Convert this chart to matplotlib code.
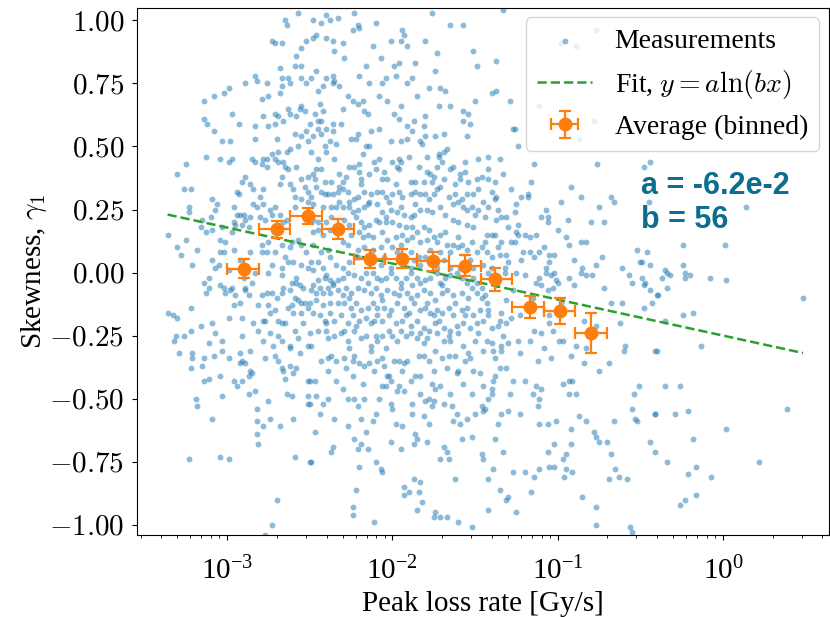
import numpy as np
import matplotlib
matplotlib.use('Agg')
import matplotlib.pyplot as plt
from matplotlib.ticker import FuncFormatter

plt.rcParams['font.family'] = 'serif'
plt.rcParams['font.serif'] = ['Liberation Serif', 'DejaVu Serif']
plt.rcParams['mathtext.fontset'] = 'cm'
plt.rcParams['font.size'] = 21

meas_upper_left = [
    (-2.57, 1.03), (-2.65, 1.00), (-2.64, 0.98), (-2.73, 0.92), (-2.71, 0.91), (-2.67, 0.91), (-2.52, 0.92), (-2.55, 0.89), (-2.58, 0.86), (-2.68, 0.81),
    (-2.59, 0.82), (-2.55, 0.82), (-2.83, 0.78), (-2.82, 0.76), (-2.76, 0.75), (-2.67, 0.77), (-2.63, 0.77), (-2.67, 0.74), (-2.62, 0.75), (-2.55, 0.77),
    (-2.52, 0.75), (-2.89, 0.75), (-2.99, 0.73), (-3.02, 0.71), (-3.08, 0.70), (-3.14, 0.68), (-2.79, 0.69), (-2.75, 0.70), (-2.68, 0.71), (-2.97, 0.63),
    (-2.71, 0.63), (-2.69, 0.62), (-2.63, 0.65), (-2.62, 0.63), (-2.56, 0.65), (-2.53, 0.64), (-3.14, 0.61), (-3.12, 0.59), (-2.93, 0.59), (-2.83, 0.58),
    (-2.75, 0.58), (-2.71, 0.59), (-2.66, 0.60), (-3.08, 0.56), (-3.03, 0.52), (-2.98, 0.52), (-2.83, 0.53), (-2.59, 0.55), (-2.55, 0.54), (-2.52, 0.56),
    (-2.51, 0.52), (-2.62, 0.49), (-2.57, 0.50), (-2.64, 0.48), (-2.69, 0.48), (-2.73, 0.47), (-2.76, 0.45), (-2.78, 0.45), (-3.13, 0.46), (-3.04, 0.45),
    (-2.99, 0.44), (-2.97, 0.45), (-2.85, 0.45), (-2.83, 0.44), (-2.79, 0.43), (-2.76, 0.42), (-2.71, 0.45), (-2.69, 0.44), (-2.66, 0.44), (-2.65, 0.42),
    (-2.63, 0.41), (-2.58, 0.42), (-3.25, 0.43), (-3.30, 0.39), (-3.26, 0.33), (-3.22, 0.33), (-3.09, 0.29), (-3.06, 0.27), (-3.07, 0.25), (-3.10, 0.22),
    (-3.15, 0.21), (-3.23, 0.24), (-3.23, 0.26), (-2.89, 0.38), (-2.91, 0.36), (-2.94, 0.32), (-2.93, 0.31), (-2.84, 0.33), (-2.78, 0.33), (-2.80, 0.30),
    (-2.84, 0.27), (-2.82, 0.26), (-2.78, 0.27), (-2.74, 0.25), (-2.71, 0.26), (-2.68, 0.35), (-2.67, 0.38), (-2.62, 0.35), (-2.55, 0.37), (-2.51, 0.38),
    (-2.53, 0.34), (-2.51, 0.32), (-2.59, 0.30), (-2.55, 0.29), (-2.51, 0.28), (-2.59, 0.26), (-2.96, 0.26), (-2.94, 0.23), (-2.92, 0.23), (-2.90, 0.23),
    (-2.89, 0.21), (-2.86, 0.22), (-2.80, 0.22), (-2.77, 0.21), (-2.73, 0.23), (-2.68, 0.23), (-2.64, 0.21), (-2.96, 0.20), (-2.95, 0.19), (-2.91, 0.19),
    (-2.87, 0.18), (-3.03, 0.18), (-2.97, 0.16), (-3.13, 0.16), (-3.09, 0.17), (-3.16, 0.18), (-3.356, 0.15), (-3.30, 0.10), (-3.28, 0.07), (-3.25, 0.13),
    (-3.18, 0.09), (-3.09, 0.05), (-3.04, 0.08), (-3.01, 0.12), (-3.04, 0.13), (-3.02, 0.08), (-2.96, 0.09), (-2.92, 0.05), (-2.86, 0.08), (-2.79, 0.08),
    (-2.79, 0.11), (-2.76, 0.08), (-2.75, 0.12), (-2.71, 0.08), (-2.67, 0.11), (-2.65, 0.06), (-2.63, 0.04), (-2.61, 0.12), (-2.57, 0.13), (-2.55, 0.11),
    (-2.52, 0.08), (-2.73, 0.03), (-2.67, 0.02), (-2.60, 0.04), (-2.55, 0.03), (-2.51, 0.02), (-3.05, 0.03), (-2.99, 0.01), (-3.21, 0.03), (-3.07, 0.02),
]

meas_upper_mid = [
    (-2.48, 1.00), (-2.43, 0.99), (-2.40, 1.02), (-2.38, 1.00), (-2.33, 1.01), (-2.23, 1.03), (-2.24, 0.96), (-2.21, 0.98), (-2.20, 0.97), (-2.10, 0.99),
    (-1.76, 1.03), (-1.65, 0.98), (-1.57, 0.98), (-2.48, 0.93), (-2.46, 0.94), (-2.40, 0.93), (-2.36, 0.92), (-2.30, 0.91), (-2.01, 0.92), (-1.95, 0.92),
    (-1.94, 0.96), (-1.93, 0.94), (-1.91, 0.90), (-1.80, 0.92), (-1.73, 0.87), (-1.51, 0.88), (-1.49, 0.82), (-2.29, 0.85), (-2.16, 0.82), (-2.07, 0.85),
    (-1.99, 0.82), (-1.96, 0.83), (-1.74, 0.80), (-2.46, 0.80), (-2.40, 0.77), (-2.36, 0.78), (-2.35, 0.76), (-2.32, 0.74), (-2.36, 0.75), (-2.42, 0.74),
    (-2.49, 0.77), (-2.14, 0.75), (-2.06, 0.75), (-2.04, 0.77), (-1.98, 0.78), (-1.91, 0.75), (-1.88, 0.77), (-1.78, 0.73), (-1.71, 0.73), (-1.68, 0.72),
    (-2.27, 0.70), (-2.24, 0.68), (-2.21, 0.67), (-2.18, 0.68), (-2.03, 0.68), (-2.17, 0.64), (-2.15, 0.63), (-1.99, 0.63), (-1.96, 0.61), (-1.91, 0.58),
    (-1.87, 0.60), (-1.80, 0.62), (-1.81, 0.58), (-1.72, 0.66), (-1.65, 0.66), (-1.57, 0.64), (-1.54, 0.63), (-1.50, 0.68), (-1.57, 0.60), (-1.53, 0.59),
    (-2.44, 0.67), (-2.42, 0.64), (-2.47, 0.63), (-2.50, 0.59), (-2.45, 0.60), (-2.43, 0.60), (-2.40, 0.57), (-2.36, 0.59), (-2.31, 0.59), (-2.36, 0.56),
    (-2.45, 0.57), (-2.48, 0.54), (-2.43, 0.55), (-2.38, 0.52), (-2.34, 0.51), (-2.41, 0.50), (-2.40, 0.48), (-2.49, 0.48), (-2.21, 0.55), (-2.25, 0.53),
    (-2.22, 0.53), (-2.16, 0.50), (-2.14, 0.50), (-2.13, 0.56), (-2.08, 0.57), (-2.01, 0.52), (-1.95, 0.52), (-1.91, 0.53), (-1.88, 0.56), (-1.83, 0.52),
    (-1.82, 0.51), (-1.80, 0.54), (-1.74, 0.54), (-1.69, 0.55), (-1.69, 0.48), (-1.67, 0.49), (-1.72, 0.47), (-1.72, 0.46), (-1.79, 0.46), (-1.55, 0.54),
    (-1.56, 0.44), (-2.45, 0.45), (-2.46, 0.41), (-2.48, 0.39), (-2.43, 0.41), (-2.47, 0.37), (-2.41, 0.36), (-2.37, 0.36), (-2.32, 0.39), (-2.30, 0.36),
    (-2.32, 0.34), (-2.26, 0.42), (-2.23, 0.42), (-2.20, 0.43), (-2.20, 0.40), (-2.19, 0.37), (-2.19, 0.35), (-2.14, 0.39), (-2.11, 0.44), (-2.10, 0.41),
    (-2.08, 0.45), (-2.06, 0.37), (-2.03, 0.37), (-2.00, 0.44), (-1.96, 0.45), (-1.95, 0.44), (-1.96, 0.41), (-1.97, 0.42), (-1.89, 0.36), (-1.86, 0.36),
    (-1.81, 0.36), (-1.79, 0.40), (-1.77, 0.39), (-1.75, 0.38), (-1.73, 0.42), (-1.69, 0.37), (-1.65, 0.41), (-1.63, 0.42), (-1.59, 0.39), (-1.59, 0.37),
    (-1.54, 0.36), (-1.49, 0.37), (-1.46, 0.38),
    (-2.46, 0.34), (-2.43, 0.32), (-2.41, 0.31), (-2.39, 0.31), (-2.36, 0.31), (-2.33, 0.32), (-2.30, 0.33), (-2.27, 0.32), (-2.49, 0.30), (-2.26, 0.28),
    (-2.23, 0.29), (-2.21, 0.30), (-2.17, 0.32), (-2.13, 0.31), (-2.09, 0.32), (-2.06, 0.32), (-2.04, 0.30), (-2.00, 0.31), (-1.96, 0.32), (-1.94, 0.30),
    (-1.89, 0.31), (-1.86, 0.32), (-1.83, 0.31), (-1.80, 0.31), (-1.75, 0.31), (-1.73, 0.33), (-1.71, 0.34), (-1.66, 0.30), (-1.62, 0.31), (-1.58, 0.29),
    (-1.55, 0.31), (-1.51, 0.31), (-1.48, 0.33),
    (-2.48, 0.27), (-2.42, 0.26), (-2.37, 0.26), (-2.34, 0.26), (-2.30, 0.26), (-2.26, 0.26), (-2.21, 0.25), (-2.17, 0.26), (-2.14, 0.28), (-2.09, 0.27),
    (-2.06, 0.24), (-2.04, 0.22), (-2.01, 0.25), (-1.97, 0.24), (-1.93, 0.23), (-1.89, 0.22), (-1.87, 0.23), (-1.83, 0.25), (-1.79, 0.25), (-1.76, 0.24),
    (-1.71, 0.26), (-1.63, 0.27), (-1.57, 0.26), (-1.55, 0.25), (-1.50, 0.23), (-1.48, 0.25), (-1.45, 0.28),
    (-2.48, 0.21), (-2.45, 0.20), (-2.37, 0.22), (-2.40, 0.20), (-2.29, 0.21), (-2.26, 0.19), (-2.22, 0.22), (-2.19, 0.20), (-2.17, 0.18), (-2.14, 0.19),
    (-2.10, 0.21), (-2.08, 0.20), (-2.04, 0.20), (-2.00, 0.20), (-1.96, 0.19), (-1.92, 0.18), (-1.88, 0.18), (-1.85, 0.16), (-1.81, 0.18), (-1.78, 0.17),
    (-1.75, 0.14), (-1.71, 0.15), (-1.68, 0.16), (-1.63, 0.21), (-1.60, 0.20), (-1.55, 0.19), (-1.51, 0.18),
    (-2.48, 0.16), (-2.45, 0.17), (-2.42, 0.15), (-2.25, 0.15), (-2.20, 0.16), (-2.18, 0.14), (-2.15, 0.15), (-2.12, 0.14), (-2.06, 0.16), (-2.03, 0.13),
    (-1.98, 0.14), (-1.94, 0.15), (-1.91, 0.13), (-1.88, 0.14), (-1.83, 0.12), (-1.79, 0.13), (-1.73, 0.12), (-1.67, 0.11), (-1.63, 0.11), (-1.58, 0.11),
    (-1.52, 0.12), (-1.49, 0.08),
    (-2.48, 0.11), (-2.43, 0.08), (-2.39, 0.09), (-2.27, 0.11), (-2.21, 0.09), (-2.17, 0.10), (-2.07, 0.10), (-2.00, 0.10), (-1.97, 0.08), (-1.89, 0.08),
    (-1.84, 0.06), (-1.80, 0.06), (-1.71, 0.08), (-1.65, 0.08), (-1.60, 0.10), (-1.55, 0.09), (-1.46, 0.10),
    (-2.49, 0.04), (-2.45, 0.04), (-2.42, 0.02), (-2.38, 0.06), (-2.34, 0.03), (-2.30, 0.02), (-2.26, 0.04), (-2.21, 0.06), (-2.07, 0.03), (-2.01, 0.02),
    (-1.89, 0.02), (-1.83, 0.03), (-1.73, 0.02), (-1.65, 0.02), (-1.59, 0.02), (-1.51, 0.02), (-1.45, 0.03),
]

meas_upper_right = [
    (-1.33, 1.04), (-0.98, 0.91), (-0.89, 0.90), (-0.77, 0.96), (-1.37, 0.84), (-1.40, 0.71), (-1.37, 0.72), (-1.29, 0.68), (-1.11, 0.66), (-0.78, 0.60),
    (-0.87, 0.53), (-1.27, 0.57), (-1.26, 0.57), (-1.24, 0.50), (-1.42, 0.46), (-1.35, 0.45), (-1.14, 0.43), (-0.76, 0.43), (-0.48, 0.42), (-0.44, 0.44),
    (-1.33, 0.39), (-1.42, 0.37), (-1.40, 0.32), (-1.37, 0.30), (-1.38, 0.29), (-1.28, 0.33), (-1.16, 0.36), (-1.18, 0.31), (-1.18, 0.30), (-0.92, 0.34),
    (-0.86, 0.30), (-0.68, 0.30), (-0.66, 0.28), (-0.45, 0.28), (-1.42, 0.26), (-1.37, 0.21), (-1.34, 0.22), (-1.31, 0.22), (-1.25, 0.27), (-1.24, 0.19),
    (-1.26, 0.24), (-1.07, 0.25), (-1.06, 0.22), (-1.06, 0.20), (-0.98, 0.28), (-0.94, 0.21), (-0.75, 0.26), (-0.72, 0.20), (-0.80, 0.20), (-1.43, 0.15),
    (-1.40, 0.15), (-1.38, 0.15), (-1.34, 0.12), (-1.28, 0.12), (-1.25, 0.16), (-1.24, 0.15), (-1.20, 0.15), (-1.17, 0.14), (-1.13, 0.15), (-1.08, 0.10),
    (-1.11, 0.08), (-1.05, 0.07), (-1.02, 0.07), (-0.95, 0.14), (-0.93, 0.11), (-0.86, 0.12), (-0.83, 0.12), (-1.43, 0.08), (-1.40, 0.06), (-1.35, 0.07),
    (-1.31, 0.07), (-1.21, 0.08), (-1.17, 0.08), (-1.22, 0.05), (-1.14, 0.06), (-1.05, 0.04), (-1.07, 0.02), (-0.85, 0.02), (-0.77, 0.03), (-0.73, 0.06),
    (-0.52, 0.09), (-0.46, 0.08), (-0.50, 0.04), (-0.49, 0.04), (-0.44, 0.03), (-1.40, 0.02), (-1.32, 0.02), (-0.61, 0.02),
    (0.14, 0.26), (-0.24, 0.11), (0.01, 0.11), (-0.24, 0.03), (-0.35, 0.01),
]

meas_lower_left = [
    (-3.14, -0.04), (-3.11, -0.02), (-3.13, -0.08), (-3.11, -0.06), (-3.04, -0.05), (-3.02, -0.06), (-3.01, -0.08), (-2.98, -0.07), (-2.97, -0.06), (-2.95, -0.09),
    (-2.89, -0.06), (-2.89, -0.07), (-2.87, -0.09), (-2.85, -0.04), (-2.79, -0.09), (-2.76, -0.08), (-2.73, -0.08), (-2.70, -0.10), (-2.67, -0.08), (-2.66, -0.06),
    (-2.62, -0.07), (-2.61, -0.04), (-2.58, -0.04), (-2.56, -0.05), (-2.54, -0.06), (-2.59, -0.10), (-2.57, -0.11), (-2.55, -0.12), (-2.53, -0.12), (-2.61, -0.13),
    (-2.63, -0.14), (-2.60, -0.16), (-2.55, -0.16), (-2.51, -0.14), (-2.54, -0.20), (-2.51, -0.29), (-2.83, 0.00), (-2.75, 0.00), (-2.67, -0.01), (-3.36, -0.16),
    (-3.33, -0.17), (-3.30, -0.18), (-3.22, -0.14), (-2.96, -0.13), (-2.92, -0.12), (-2.99, -0.18), (-2.91, -0.18), (-2.81, -0.13), (-2.78, -0.19), (-2.77, -0.19),
    (-2.75, -0.13), (-2.74, -0.16), (-2.71, -0.15), (-2.69, -0.19), (-2.67, -0.20), (-2.65, -0.20), (-2.84, -0.20), (-2.81, -0.23), (-3.16, -0.21), (-3.09, -0.20),
    (-3.07, -0.24), (-3.22, -0.23), (-3.26, -0.25), (-3.31, -0.25), (-3.32, -0.27), (-3.11, -0.28), (-3.03, -0.27), (-2.91, -0.25), (-2.74, -0.24), (-2.72, -0.29),
    (-2.69, -0.25), (-2.67, -0.27), (-2.62, -0.29), (-2.62, -0.30), (-2.59, -0.23), (-2.57, -0.26), (-2.56, -0.32), (-3.29, -0.32), (-3.21, -0.32), (-3.21, -0.34),
    (-3.14, -0.34), (-3.08, -0.33), (-3.03, -0.31), (-2.99, -0.34), (-2.92, -0.32), (-2.91, -0.35), (-2.92, -0.36), (-2.89, -0.36), (-2.86, -0.31), (-2.86, -0.39),
    (-2.85, -0.40), (-2.87, -0.41), (-2.77, -0.34), (-2.71, -0.33), (-2.69, -0.35), (-2.67, -0.38), (-2.66, -0.39), (-2.62, -0.37), (-2.60, -0.40), (-2.58, -0.38),
    (-2.65, -0.42), (-2.51, -0.43), (-3.22, -0.38), (-3.15, -0.37), (-3.14, -0.43), (-3.11, -0.42), (-3.04, -0.41), (-2.96, -0.43), (-2.94, -0.45), (-2.91, -0.43),
    (-2.87, -0.48), (-2.83, -0.47), (-3.19, -0.50), (-3.18, -0.53), (-3.03, -0.49), (-2.75, -0.51), (-2.61, -0.49), (-2.51, -0.49), (-2.51, -0.52), (-3.09, -0.58),
    (-2.82, -0.54), (-2.82, -0.59), (-2.78, -0.61), (-2.74, -0.58), (-2.68, -0.61), (-2.60, -0.58), (-2.82, -0.64), (-2.81, -0.68), (-3.23, -0.74), (-3.04, -0.73),
    (-2.99, -0.74), (-2.59, -0.73), (-2.50, -0.75), (-2.70, -0.90), (-2.73, -1.00), (-2.77, -1.04),
]

meas_lower_mid = [
    (-2.48, 0.01), (-2.41, -0.02), (-2.38, -0.03), (-2.40, -0.01), (-2.45, -0.03), (-2.48, -0.05), (-2.44, -0.06), (-2.39, -0.06), (-2.36, -0.04), (-2.33, -0.03),
    (-2.30, -0.02), (-2.27, 0.00), (-2.23, -0.01), (-2.19, -0.02), (-2.16, 0.00), (-2.12, 0.00), (-2.09, -0.02), (-2.07, -0.03), (-2.04, -0.02), (-2.01, 0.00),
    (-1.98, -0.02), (-1.95, -0.04), (-1.92, -0.02), (-1.89, 0.00), (-1.85, -0.02), (-1.83, -0.04), (-1.80, -0.03), (-1.77, -0.02), (-1.73, 0.00), (-1.71, -0.04),
    (-1.68, -0.02), (-1.65, -0.01), (-1.61, 0.00), (-1.58, -0.02), (-1.55, -0.04), (-1.51, -0.02), (-1.49, -0.04), (-1.46, -0.06),
    (-2.49, -0.07), (-2.46, -0.08), (-2.42, -0.08), (-2.38, -0.08), (-2.33, -0.07), (-2.30, -0.09), (-2.28, -0.06), (-2.25, -0.08), (-2.21, -0.06), (-2.17, -0.07),
    (-2.13, -0.08), (-2.10, -0.06), (-2.07, -0.09), (-2.03, -0.07), (-1.99, -0.08), (-1.95, -0.06), (-1.91, -0.08), (-1.89, -0.10), (-1.85, -0.09), (-1.81, -0.07),
    (-1.77, -0.08), (-1.74, -0.11), (-1.70, -0.08), (-1.67, -0.07), (-1.63, -0.09), (-1.58, -0.08), (-1.54, -0.10), (-1.49, -0.08), (-1.46, -0.10),
    (-2.50, -0.12), (-2.46, -0.11), (-2.42, -0.13), (-2.38, -0.12), (-2.33, -0.12), (-2.29, -0.12), (-2.25, -0.14), (-2.22, -0.12), (-2.19, -0.15), (-2.15, -0.14),
    (-2.12, -0.12), (-2.09, -0.14), (-2.05, -0.14), (-2.01, -0.15), (-1.97, -0.12), (-1.93, -0.14), (-1.90, -0.16), (-1.87, -0.12), (-1.83, -0.15), (-1.80, -0.14),
    (-1.77, -0.16), (-1.73, -0.15), (-1.70, -0.16), (-1.66, -0.14), (-1.63, -0.17), (-1.58, -0.15), (-1.55, -0.14), (-1.51, -0.17), (-1.47, -0.15),
    (-2.48, -0.16), (-2.44, -0.17), (-2.41, -0.19), (-2.38, -0.16), (-2.35, -0.19), (-2.31, -0.17), (-2.27, -0.20), (-2.24, -0.17), (-2.20, -0.19), (-2.16, -0.18),
    (-2.13, -0.20), (-2.09, -0.17), (-2.06, -0.19), (-2.02, -0.17), (-1.98, -0.20), (-1.94, -0.19), (-1.89, -0.21), (-1.85, -0.19), (-1.81, -0.22), (-1.78, -0.23),
    (-1.74, -0.20), (-1.72, -0.19), (-1.69, -0.22), (-1.65, -0.23), (-1.61, -0.21), (-1.57, -0.20), (-1.53, -0.22), (-1.49, -0.20), (-1.45, -0.19),
    (-2.50, -0.24), (-2.45, -0.23), (-2.40, -0.23), (-2.39, -0.26), (-2.35, -0.25), (-2.29, -0.23), (-2.27, -0.27), (-2.23, -0.23), (-2.19, -0.26), (-2.16, -0.25),
    (-2.13, -0.29), (-2.10, -0.25), (-2.09, -0.27), (-2.06, -0.25), (-2.02, -0.23), (-1.97, -0.27), (-1.95, -0.23), (-1.92, -0.25), (-1.89, -0.24), (-1.85, -0.26),
    (-1.81, -0.28), (-1.79, -0.26), (-1.74, -0.31), (-1.73, -0.24), (-1.69, -0.27), (-1.65, -0.27), (-1.60, -0.24), (-1.57, -0.29), (-1.54, -0.32), (-1.50, -0.27),
    (-1.45, -0.31),
    (-2.49, -0.29), (-2.43, -0.35), (-2.39, -0.34), (-2.34, -0.35), (-2.29, -0.34), (-2.28, -0.38), (-2.23, -0.33), (-2.24, -0.35), (-2.20, -0.36), (-2.17, -0.37),
    (-2.13, -0.31), (-2.11, -0.39), (-2.09, -0.35), (-2.06, -0.34), (-2.05, -0.37), (-2.03, -0.41), (-2.02, -0.41), (-2.01, -0.43), (-1.99, -0.35), (-1.96, -0.35),
    (-1.93, -0.36), (-1.91, -0.35), (-1.89, -0.43), (-1.86, -0.41), (-1.83, -0.41), (-1.81, -0.33), (-1.78, -0.35), (-1.75, -0.39), (-1.70, -0.34), (-1.66, -0.33),
    (-1.62, -0.33), (-1.61, -0.40), (-1.60, -0.39), (-1.57, -0.44), (-1.53, -0.34), (-1.51, -0.39), (-1.45, -0.45),
    (-2.50, -0.43), (-2.47, -0.43), (-2.39, -0.39), (-2.34, -0.43), (-2.24, -0.41), (-2.06, -0.45), (-2.04, -0.45), (-1.96, -0.45), (-1.93, -0.47), (-1.83, -0.48),
    (-1.80, -0.51), (-1.78, -0.50), (-1.76, -0.53), (-1.75, -0.51), (-1.71, -0.45), (-1.69, -0.52), (-1.65, -0.48), (-1.61, -0.56), (-1.59, -0.60), (-1.63, -0.59),
    (-1.55, -0.58), (-1.50, -0.56), (-1.46, -0.53), (-1.45, -0.55),
    (-2.46, -0.49), (-2.42, -0.52), (-2.39, -0.50), (-2.27, -0.50), (-2.23, -0.50), (-2.21, -0.53), (-2.19, -0.58), (-2.17, -0.50), (-2.12, -0.59), (-2.10, -0.56),
    (-2.01, -0.52), (-2.00, -0.54), (-1.94, -0.61), (-1.88, -0.52), (-1.87, -0.68), (-1.86, -0.64), (-1.85, -0.66), (-1.81, -0.57), (-1.79, -0.67), (-1.69, -0.69),
    (-1.67, -0.71), (-1.66, -0.74), (-1.71, -0.74), (-1.62, -0.82), (-1.52, -0.65), (-1.46, -0.72), (-1.45, -0.74),
    (-2.50, -0.52), (-2.44, -0.56), (-2.27, -0.61), (-2.23, -0.66), (-2.21, -0.70), (-2.19, -0.68), (-2.15, -0.70), (-2.20, -0.77), (-2.10, -0.75), (-2.07, -0.78),
    (-2.06, -0.79), (-2.01, -0.67), (-1.95, -0.70), (-2.22, -0.86), (-2.24, -0.93), (-2.24, -0.96), (-2.11, -0.99), (-1.93, -0.85), (-1.93, -0.88), (-1.90, -0.87),
    (-1.87, -0.82), (-1.83, -0.83), (-1.84, -0.87), (-1.82, -0.91), (-1.85, -0.94), (-1.75, -0.97), (-1.74, -0.95), (-1.71, -0.97), (-1.67, -0.97), (-1.60, -0.99),
    (-1.52, -1.01), (-2.49, -0.75), (-2.36, -0.69), (-2.37, -0.71),
]

meas_lower_right = [
    (-1.42, 0.00), (-1.32, 0.00), (-1.25, 0.00), (-1.20, -0.01), (-1.13, -0.04), (-1.11, -0.02), (-1.07, 0.00), (-1.04, -0.01), (-1.02, 0.00), (-1.01, -0.03),
    (-1.00, -0.04), (-1.03, -0.06), (-1.06, -0.07), (-1.10, -0.05), (-0.93, -0.02), (-0.86, 0.00), (-0.83, -0.01), (-0.79, -0.01), (-0.72, -0.06), (-0.57, -0.01),
    (-0.55, -0.04), (-0.49, -0.02), (-0.48, -0.05), (-0.47, -0.04), (-0.44, -0.07), (-0.40, -0.09), (-0.68, -0.12), (-0.61, -0.12), (-0.48, -0.14), (-0.43, -0.12),
    (-1.43, -0.12), (-1.42, -0.15), (-1.42, -0.17), (-1.34, -0.16), (-1.35, -0.19), (-1.36, -0.21), (-1.31, -0.20), (-1.23, -0.17), (-1.14, -0.23), (-1.10, -0.24),
    (-1.03, -0.23), (-0.99, -0.27), (-0.97, -0.27), (-1.05, -0.17), (-1.05, -0.20), (-0.84, -0.19), (-0.77, -0.21), (-0.89, -0.29), (-0.83, -0.30), (-0.92, -0.33),
    (-0.84, -0.36), (-0.69, -0.36), (-0.75, -0.39), (-0.62, -0.20), (-0.59, -0.29), (-0.60, -0.31), (-0.40, -0.31), (-1.43, -0.27), (-1.39, -0.31), (-1.40, -0.28),
    (-1.34, -0.29), (-1.34, -0.31), (-1.30, -0.28), (-1.24, -0.27), (-1.23, -0.32), (-1.17, -0.27), (-1.12, -0.35), (-1.04, -0.34), (-1.35, -0.38), (-1.38, -0.41),
    (-1.39, -0.43), (-1.40, -0.46), (-1.40, -0.48), (-1.27, -0.43), (-1.29, -0.48), (-1.15, -0.48), (-1.13, -0.45), (-1.10, -0.46), (-1.11, -0.50), (-1.12, -0.53),
    (-1.23, -0.56), (-1.34, -0.56), (-1.36, -0.60), (-1.44, -0.54), (-1.11, -0.60), (-1.06, -0.60), (-1.01, -0.59), (-0.97, -0.44), (-0.93, -0.43), (-0.91, -0.43),
    (-0.93, -0.48), (-0.89, -0.48), (-0.92, -0.62), (-0.87, -0.57), (-0.83, -0.59), (-0.78, -0.63), (-0.77, -0.65), (-0.75, -0.67), (-0.70, -0.67), (-0.68, -0.72),
    (-0.66, -0.59), (-0.54, -0.48), (-0.51, -0.45), (-0.55, -0.54), (-0.53, -0.58), (-0.52, -0.59), (-0.41, -0.56), (-0.44, -0.67), (-1.02, -0.68), (-1.06, -0.71),
    (-0.95, -0.72), (-0.97, -0.74), (-0.92, -0.68), (-0.95, -0.78), (-0.96, -0.81), (-0.91, -0.79), (-1.05, -0.77), (-1.02, -0.77), (-1.11, -0.78), (-1.14, -0.81),
    (-1.20, -0.79), (-1.27, -0.79), (-1.39, -0.78), (-1.33, -0.71), (-1.42, -0.82), (-1.35, -0.86), (-1.30, -0.89), (-1.31, -0.90), (-1.42, -0.94), (-1.25, -0.95),
    (-1.16, -0.87), (-0.85, -0.89), (-0.77, -0.93), (-0.77, -1.00), (-0.69, -0.82), (-0.65, -0.78), (-0.63, -0.81), (-0.58, -0.82), (-0.56, -1.01), (-0.55, -1.03),
    (-0.41, -0.71),
    (-0.34, 0.00), (-0.23, 0.00), (-0.20, -0.01), (-0.23, -0.02), (-0.37, -0.02), (-0.32, -0.01), (-0.08, -0.02), (0.02, -0.03), (0.485, -0.10), (-0.39, -0.09),
    (-0.34, -0.06), (-0.24, -0.17), (-0.18, -0.16), (-0.35, -0.19), (-0.41, -0.31), (-0.13, -0.29), (-0.35, -0.45), (-0.26, -0.45), (-0.41, -0.56), (-0.29, -0.56),
    (-0.21, -0.55), (0.39, -0.54), (0.02, -0.62), (-0.18, -0.66), (-0.34, -0.75), (0.22, -0.75), (-0.16, -0.77), (-0.21, -0.80), (-0.07, -0.81), (-0.16, -0.88),
    (-0.23, -0.90), (-0.26, -0.92),
]

# extra points in the crowded middle of the cloud
meas_center = [
    (-2.35, 0.45), (-2.28, 0.38), (-2.18, 0.47), (-2.05, 0.40), (-1.98, 0.35), (-1.90, 0.46), (-1.84, 0.42), (-1.76, 0.36), (-1.70, 0.44), (-1.62, 0.35),
    (-1.56, 0.40), (-1.48, 0.45), (-1.42, 0.41), (-1.38, 0.36), (-2.32, 0.28), (-2.24, 0.24), (-2.15, 0.27), (-2.02, 0.28), (-1.95, 0.26), (-1.86, 0.27),
    (-1.78, 0.29), (-1.68, 0.23), (-1.60, 0.28), (-1.52, 0.26), (-1.44, 0.22), (-1.36, 0.25), (-1.30, 0.18), (-2.38, 0.17), (-2.30, 0.12), (-2.22, 0.06),
    (-2.12, 0.09), (-2.05, 0.06), (-1.95, 0.11), (-1.87, 0.05), (-1.77, 0.09), (-1.69, 0.05), (-1.60, 0.14), (-1.53, 0.05), (-1.44, 0.12), (-1.36, 0.10),
    (-1.30, 0.04), (-1.26, 0.12), (-2.36, -0.05), (-2.26, -0.10), (-2.15, -0.04), (-2.06, -0.11), (-1.96, -0.09), (-1.88, -0.05), (-1.79, -0.12), (-1.70, -0.05),
    (-1.62, -0.12), (-1.52, -0.06), (-1.44, -0.09), (-1.37, -0.05), (-1.31, -0.11), (-1.27, -0.07), (-2.40, -0.20), (-2.31, -0.24), (-2.22, -0.21), (-2.11, -0.19),
    (-2.00, -0.25), (-1.92, -0.17), (-1.83, -0.24), (-1.75, -0.17), (-1.66, -0.25), (-1.56, -0.17), (-1.48, -0.24), (-1.40, -0.22), (-1.33, -0.25), (-1.28, -0.18),
    (-2.37, -0.33), (-2.26, -0.30), (-2.14, -0.36), (-2.04, -0.30), (-1.94, -0.39), (-1.84, -0.33), (-1.76, -0.44), (-1.67, -0.38), (-1.56, -0.35), (-1.47, -0.40),
    (-1.38, -0.34), (-1.31, -0.38), (-2.30, -0.46), (-2.18, -0.44), (-2.08, -0.50), (-1.97, -0.47), (-1.88, -0.56), (-1.74, -0.46), (-1.64, -0.53), (-1.52, -0.48),
    (-1.42, -0.50), (-1.30, -0.55), (-2.62, 0.10), (-2.58, -0.02), (-2.66, 0.20), (-2.60, 0.33), (-2.70, 0.53), (-2.58, 0.62), (-2.45, 0.72), (-2.30, 0.65),
    (-2.20, 0.78), (-2.08, 0.70), (-1.95, 0.66), (-1.85, 0.70), (-1.86, 0.83), (-2.12, 0.90), (-2.35, 0.88), (-2.55, 0.66), (-2.78, 0.62), (-2.86, 0.35),
    (-2.70, 0.16), (-2.90, -0.02), (-2.78, -0.27), (-2.64, -0.48), (-2.47, -0.63), (-2.35, -0.58), (-2.16, -0.63), (-1.98, -0.60), (-1.78, -0.60), (-1.58, -0.66),
    (-1.38, -0.66), (-1.20, -0.43), (-1.15, -0.10), (-1.08, -0.30), (-0.98, -0.12), (-0.90, -0.05), (-1.22, 0.30), (-1.10, 0.22), (-1.00, 0.17), (-0.90, 0.05),
]

# fit y = a ln(b x)
fit_a = -6.2e-2
fit_b = 56

# binned averages
bin_edges = [0.001, 0.00155, 0.00242, 0.00376, 0.00584, 0.00909, 0.0141, 0.0220, 0.0342, 0.0531, 0.0826, 0.128, 0.200]
bin_x = [1.27e-3, 2.0e-3, 3.07e-3, 4.69e-3, 7.3e-3, 1.15e-2, 1.77e-2, 2.76e-2, 4.19e-2, 6.79e-2, 0.103, 0.160]
bin_y = [0.015, 0.171, 0.224, 0.173, 0.053, 0.055, 0.044, 0.028, -0.027, -0.135, -0.152, -0.238]
bin_yerr = [0.038, 0.034, 0.033, 0.039, 0.035, 0.038, 0.037, 0.041, 0.045, 0.044, 0.051, 0.079]

meas = np.array(meas_upper_left + meas_upper_mid + meas_upper_right + meas_lower_left
                + meas_lower_mid + meas_lower_right + meas_center)
rate = 10 ** meas[:, 0]
skew = meas[:, 1]

fig, ax = plt.subplots(figsize=(8.3, 6.17), dpi=100)
fig.subplots_adjust(left=0.165, right=0.9985, bottom=0.133, top=0.9875)

h_meas = ax.scatter(rate, skew, s=18, color='tab:blue', alpha=0.5, linewidths=0,
                    label='Measurements')
xfit = np.logspace(np.log10(rate.min()), np.log10(rate.max()), 200)
h_fit, = ax.plot(xfit, fit_a * np.log(fit_b * xfit), '--', color='tab:green', lw=1.8,
                 label=r'Fit, $y = a\ln(bx)$')
bx = np.array(bin_x)
edges = np.array(bin_edges)
xerr = [bx - edges[:-1], edges[1:] - bx]
h_bin = ax.errorbar(bx, bin_y, yerr=bin_yerr, xerr=xerr, fmt='o', color='tab:orange',
                    ms=9, elinewidth=1.6, capsize=4, capthick=1.6, label='Average (binned)')

ax.set_xscale('log')
ax.set_xlim(2.85e-4, 4.37)
ax.set_ylim(-1.04, 1.05)
ax.set_yticks(np.arange(-1, 1.01, 0.25))
ax.yaxis.set_major_formatter(FuncFormatter(lambda v, p: '$%.2f$' % v))
ax.tick_params(axis='x', which='major', pad=12)
ax.tick_params(axis='y', which='major', pad=5.5)
ax.set_xlabel('Peak loss rate [Gy/s]')
ax.set_ylabel(r'Skewness, $\gamma_1$', labelpad=0)

ax.legend([h_meas, h_fit, h_bin], ['Measurements', r'Fit, $y = a\ln(bx)$', 'Average (binned)'],
          loc='upper right', fontsize=20, borderaxespad=0.35)
ax.text(0.728, 0.69, 'a = -6.2e-2\nb = 56', transform=ax.transAxes, ha='left', va='top',
        fontsize=22, fontweight='bold', family='Liberation Sans', color='#0b6e8e',
        linespacing=1.15)

fig.savefig('out.png')
